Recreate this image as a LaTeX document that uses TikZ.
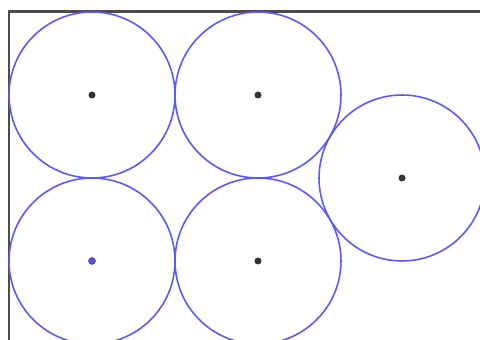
\documentclass[tikz,border=0pt]{standalone}
\usepackage{tikz}
\usetikzlibrary{positioning}
\tikzset{
  disc/.style = {circle, draw=blue!65, line width=0.9pt, inner sep=0pt,
    minimum size=3.32cm},% cercle de rayon 83px
  centre/.style = {circle, fill=black!80, inner sep=0pt, minimum size=0.14cm},
  centre_b/.style = {centre, fill=blue!70, draw=black!70, line width=0.3pt},
  frame/.style = {draw=black!70, line width=1.7pt}
}

\begin{document}
\begin{tikzpicture}[x=0.02cm,y=-0.02cm]
\useasboundingbox (0,0) rectangle (480,340);
% cadre
\coordinate (corner) at (9,12);
\coordinate (bottom) at (9,345);
\coordinate (right) at (485,12);
\draw [frame] (bottom) -- (corner) -- (right);
% cercles
\node [disc] (c1) at (92,95) {};
\node [disc] (c2) at (258,95) {};
\node [disc] (c3) at (92,261) {};
\node [disc] (c4) at (258,261) {};
\node [disc] (c5) at (402,178) {};
% centres
\node [centre] (p1) at (c1.center) {};
\node [centre] (p2) at (c2.center) {};
\node [centre_b] (p3) at (c3.center) {};
\node [centre] (p4) at (c4.center) {};
\node [centre] (p5) at (c5.center) {};
\end{tikzpicture}
\end{document}
